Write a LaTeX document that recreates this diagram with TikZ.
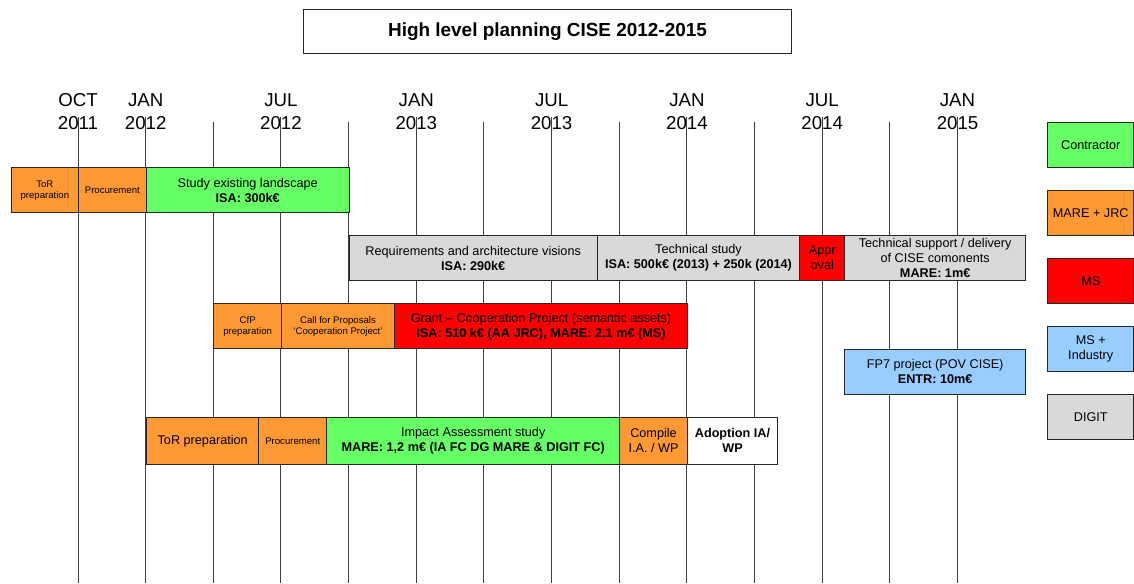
\documentclass[tikz,border=0pt]{standalone}
\usepackage{fontspec}
\setmainfont{Liberation Sans}
\begin{document}
\begin{tikzpicture}[x=0.75pt,y=-0.75pt,
  gridline/.style={draw=black!75,line width=0.75pt},
  boxbase/.style={draw=black!85,line width=0.75pt,inner sep=0pt,align=center,text=black},
  green/.style={boxbase,fill={rgb,255:red,102;green,255;blue,102}},
  orange/.style={boxbase,fill={rgb,255:red,255;green,153;blue,51}},
  red/.style={boxbase,fill={rgb,255:red,255;green,0;blue,0}},
  blue/.style={boxbase,fill={rgb,255:red,153;green,204;blue,255}},
  grey/.style={boxbase,fill={rgb,255:red,217;green,217;blue,217}},
  white/.style={boxbase,fill=white},
  nrm/.style={font=\fontsize{9.5}{11.3}\selectfont},
  sml/.style={font=\fontsize{7.2}{8.3}\selectfont},
  axislbl/.style={font=\fontsize{14}{17.25}\selectfont,align=center,inner sep=0pt}]
\newcommand\tlbox[7]{\node[#6,minimum width={(#4-#2)*0.75pt},minimum height={(#5-#3)*0.75pt},anchor=north west] (#1) at (#2,#3) {#7};}

\useasboundingbox[fill=white] (0,0) rectangle (1134,583);

% title
\tlbox{title}{303.3}{9}{790.7}{52.7}{white}{\raisebox{-1.5pt}{\fontsize{14.2}{16}\selectfont\bfseries High level planning CISE 2012-2015}}

% timeline labels
\node[axislbl] (oct11) at (78,111.5) {OCT\\2011};
\node[axislbl] (jan12) at (145.7,111.5) {JAN\\2012};
\node[axislbl] (jul12) at (281,111.5) {JUL\\2012};
\node[axislbl] (jan13) at (416.3,111.5) {JAN\\2013};
\node[axislbl] (jul13) at (551.6,111.5) {JUL\\2013};
\node[axislbl] (jan14) at (686.9,111.5) {JAN\\2014};
\node[axislbl] (jul14) at (822.2,111.5) {JUL\\2014};
\node[axislbl] (jan15) at (957.5,111.5) {JAN\\2015};

% quarter lines (labelled ones start a little higher)
\foreach \k in {0,1,3,5,7,9,11,13}
  \draw[gridline] ({78+67.65*\k},117) -- ({78+67.65*\k},583);
\foreach \k in {2,4,6,8,10,12}
  \draw[gridline] ({78+67.65*\k},121.7) -- ({78+67.65*\k},583);

% row 1
\tlbox{tor1}{10.7}{167.3}{78}{212.3}{orange,sml}{ToR\\preparation}
\tlbox{proc1}{78}{167.3}{145.7}{212.3}{orange,sml}{Procurement}
\tlbox{study}{145.7}{167.3}{348.7}{212.3}{green,nrm}{Study existing landscape\\\textbf{ISA: 300k€}}

% row 2
\tlbox{req}{348.7}{235}{596.7}{280.3}{grey,nrm}{Requirements and architecture visions\\\textbf{ISA: 290k€}}
\tlbox{tech}{596.7}{235}{799.3}{280.3}{grey,nrm}{Technical study\\\textbf{ISA: 500k€ (2013) + 250k (2014)}}
\tlbox{appr}{799.3}{235}{844.3}{280.3}{red,nrm}{Appr\\oval}
\tlbox{supp}{844.3}{235}{1025}{280.3}{grey,nrm}{Technical support / delivery\\of CISE comonents\\\textbf{MARE: 1m€}}

% row 3
\tlbox{cfp}{213.3}{303.3}{281}{348.3}{orange,sml}{CfP\\preparation}
\tlbox{call}{281}{303.3}{394}{348.3}{orange,sml}{Call for Proposals\\‘Cooperation Project’}
\tlbox{grant}{394}{303.3}{687}{348.3}{red,nrm}{Grant – Cooperation Project (semantic assets)\\\textbf{ISA: 510 k€ (AA JRC), MARE: 2,1 m€ (MS)}}
\tlbox{fp7}{844.3}{348.7}{1025}{394}{blue,nrm}{FP7 project (POV CISE)\\\textbf{ENTR: 10m€}}

% row 4
\tlbox{tor2}{146}{416.7}{258.4}{464}{orange,nrm}{ToR preparation}
\tlbox{proc2}{258.4}{416.7}{326.1}{464}{orange,sml}{Procurement}
\tlbox{impact}{326.1}{416.7}{619.3}{464}{green,nrm}{Impact Assessment study\\\textbf{MARE: 1,2 m€ (IA FC DG MARE \& DIGIT FC)}}
\tlbox{compile}{619.3}{416.7}{686.7}{464}{orange,nrm}{Compile\\I.A. / WP}
\tlbox{adopt}{686.7}{416.7}{777.3}{464}{white,nrm}{\textbf{Adoption IA/}\\\textbf{WP}}

% legend
\tlbox{lgc}{1047.3}{121.7}{1133.2}{166.7}{green,nrm}{Contractor}
\tlbox{lgm}{1047.3}{190}{1133.2}{235}{orange,nrm}{MARE + JRC}
\tlbox{lgs}{1047.3}{258.3}{1133.2}{303.3}{red,nrm}{MS}
\tlbox{lgi}{1047.3}{326}{1133.2}{371}{blue,nrm}{MS +\\Industry}
\tlbox{lgd}{1047.3}{394.3}{1133.2}{439.3}{grey,nrm}{DIGIT}
\end{tikzpicture}
\end{document}
